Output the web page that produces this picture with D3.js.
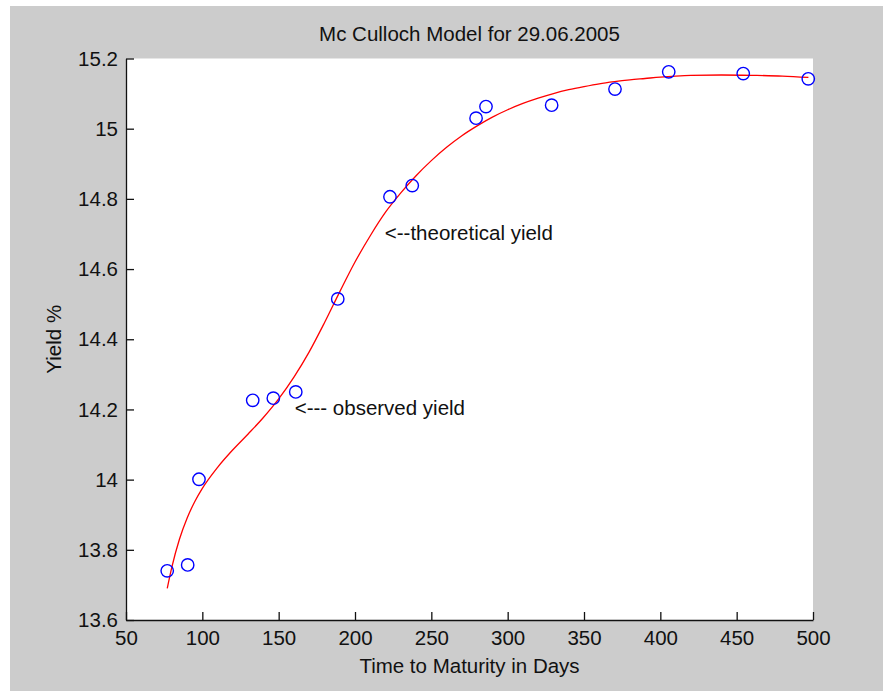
<!DOCTYPE html>
<html>
<head>
<meta charset="utf-8">
<script src="https://cdn.jsdelivr.net/npm/d3@7"></script>
<style>
  html, body { margin: 0; padding: 0; background: #ffffff; }
  svg { display: block; }
  text { font-family: "Liberation Sans", Arial, sans-serif; fill: #111; }
</style>
</head>
<body>
<svg id="chart" width="883" height="691"></svg>
<script>
// Observed yields (maturity in days, yield %)
const obsDays  = [77, 90.4, 97.8, 133, 146.5, 161.2, 188.7, 222.9, 237.5, 279.3, 285.8, 328.8, 370.3, 405.5, 454.3, 496.9];
const obsYield = [13.740, 13.757, 14.001, 14.226, 14.232, 14.250, 14.515, 14.806, 14.838, 15.030, 15.063, 15.067, 15.113, 15.162, 15.157, 15.142];

// Fitted Mc Culloch curve, sampled
const fitDays  = [77, 80, 85, 90, 95, 100, 110, 120, 130, 140, 150, 160, 170, 180, 190, 200, 210, 220, 230, 240, 250, 260, 270, 280, 290, 300, 310, 320, 330, 340, 350, 360, 370, 380, 390, 400, 410, 420, 440, 460, 480, 497];
const fitYield = [13.690, 13.750, 13.830, 13.890, 13.937, 13.975, 14.035, 14.085, 14.130, 14.177, 14.230, 14.292, 14.364, 14.447, 14.535, 14.620, 14.695, 14.762, 14.817, 14.866, 14.909, 14.947, 14.980, 15.008, 15.033, 15.054, 15.072, 15.087, 15.100, 15.111, 15.120, 15.128, 15.134, 15.139, 15.143, 15.147, 15.150, 15.152, 15.153, 15.152, 15.150, 15.146];

const xTicks = [50, 100, 150, 200, 250, 300, 350, 400, 450, 500];
const yTicks = [13.6, 13.8, 14, 14.2, 14.4, 14.6, 14.8, 15, 15.2];

const titleText = "Mc Culloch Model for 29.06.2005";
const xLabel = "Time to Maturity in Days";
const yLabel = "Yield %";
const notes = [
  { text: "<--- observed yield", day: 160.5, y: 14.184 },
  { text: "<--theoretical yield", day: 219.5, y: 14.683 }
];

const svg = d3.select("#chart");
const W = 883, H = 691;
const plot = { left: 126, right: 813, top: 58.5, bottom: 620 };
const fontSize = 20.5;

// figure background
svg.append("rect").attr("x", 10).attr("y", 6).attr("width", W - 10).attr("height", H - 6).attr("fill", "#cccccc");

const x = d3.scaleLinear().domain([50, 500]).range([plot.left, plot.right]);
const y = d3.scaleLinear().domain([13.6, 15.2]).range([plot.bottom, plot.top]);

// axes area
svg.append("rect")
  .attr("x", plot.left).attr("y", plot.top)
  .attr("width", plot.right - plot.left).attr("height", plot.bottom - plot.top)
  .attr("fill", "#ffffff");

// x axis (ticks point inward)
const xAxis = svg.append("g")
  .attr("transform", `translate(0,${plot.bottom})`)
  .call(d3.axisBottom(x).tickValues(xTicks).tickFormat(d3.format("d")).tickSizeInner(-8).tickSizeOuter(0).tickPadding(10));
xAxis.select(".domain").attr("stroke", "#111").attr("stroke-width", 1.3);
xAxis.selectAll(".tick line").attr("stroke", "#111").attr("stroke-width", 1.3);
xAxis.selectAll(".tick text").attr("font-size", fontSize).attr("font-family", "Liberation Sans, Arial, sans-serif").attr("fill", "#111");

// y axis
const yAxis = svg.append("g")
  .attr("transform", `translate(${plot.left},0)`)
  .call(d3.axisLeft(y).tickValues(yTicks).tickFormat(d3.format("~g")).tickSizeInner(-8).tickSizeOuter(0).tickPadding(8));
yAxis.select(".domain").attr("stroke", "#111").attr("stroke-width", 1.3);
yAxis.selectAll(".tick line").attr("stroke", "#111").attr("stroke-width", 1.3);
yAxis.selectAll(".tick text").attr("font-size", fontSize).attr("font-family", "Liberation Sans, Arial, sans-serif").attr("fill", "#111");

// fitted curve
const fit = fitDays.map((d, i) => [d, fitYield[i]]);
svg.append("path")
  .datum(fit)
  .attr("fill", "none")
  .attr("stroke", "#ff0000")
  .attr("stroke-width", 1.3)
  .attr("d", d3.line().x(d => x(d[0])).y(d => y(d[1])).curve(d3.curveMonotoneX));

// observed points
svg.append("g").selectAll("circle")
  .data(obsDays.map((d, i) => [d, obsYield[i]]))
  .join("circle")
  .attr("cx", d => x(d[0]))
  .attr("cy", d => y(d[1]))
  .attr("r", 6.2)
  .attr("fill", "none")
  .attr("stroke", "#0000ff")
  .attr("stroke-width", 1.4);

// annotations
svg.append("g").selectAll("text")
  .data(notes)
  .join("text")
  .attr("x", d => x(d.day))
  .attr("y", d => y(d.y))
  .attr("font-size", fontSize)
  .text(d => d.text);

// title and labels
svg.append("text")
  .attr("x", (plot.left + plot.right) / 2).attr("y", 41)
  .attr("text-anchor", "middle").attr("font-size", fontSize)
  .text(titleText);

svg.append("text")
  .attr("x", (plot.left + plot.right) / 2).attr("y", 673)
  .attr("text-anchor", "middle").attr("font-size", fontSize)
  .text(xLabel);

svg.append("text")
  .attr("transform", `translate(61,${(plot.top + plot.bottom) / 2}) rotate(-90)`)
  .attr("text-anchor", "middle").attr("font-size", fontSize)
  .text(yLabel);
</script>
</body>
</html>
